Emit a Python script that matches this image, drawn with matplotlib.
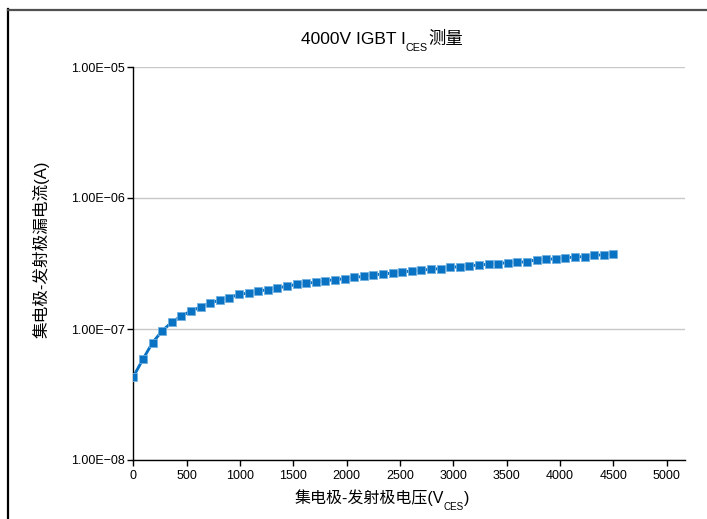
import numpy as np
import matplotlib
matplotlib.use("Agg")
import matplotlib.pyplot as plt
from matplotlib.lines import Line2D
from matplotlib.ticker import FixedLocator, FuncFormatter, NullLocator

plt.rcParams['font.family'] = ['Liberation Sans', 'Noto Sans CJK SC', 'DejaVu Sans']

# collector-emitter voltage (V), 90 V steps
vces = np.arange(0, 4501, 90)
# collector-emitter leakage current (A)
ices = [4.32e-8, 5.87e-8, 7.86e-8, 9.66e-8, 1.125e-7, 1.256e-7, 1.37e-7, 1.47e-7,
        1.58e-7, 1.66e-7, 1.73e-7, 1.84e-7, 1.88e-7, 1.94e-7, 2.00e-7, 2.06e-7,
        2.12e-7, 2.19e-7, 2.24e-7, 2.27e-7, 2.34e-7, 2.38e-7, 2.42e-7, 2.48e-7,
        2.52e-7, 2.60e-7, 2.62e-7, 2.68e-7, 2.73e-7, 2.77e-7, 2.81e-7, 2.86e-7,
        2.89e-7, 2.96e-7, 2.99e-7, 3.04e-7, 3.08e-7, 3.12e-7, 3.16e-7, 3.21e-7,
        3.23e-7, 3.26e-7, 3.38e-7, 3.40e-7, 3.44e-7, 3.48e-7, 3.56e-7, 3.56e-7,
        3.65e-7, 3.69e-7, 3.76e-7]

x_ticks = [0, 500, 1000, 1500, 2000, 2500, 3000, 3500, 4000, 4500, 5000]
y_ticks = [1e-8, 1e-7, 1e-6, 1e-5]

W, H = 707, 519
fig = plt.figure(figsize=(W / 100, H / 100), dpi=100)
ax = fig.add_axes([133.3 / W, 1 - 460 / H, (685 - 133.3) / W, (460 - 67) / H])

blue = '#0a72c2'
ax.plot(vces, ices, color=blue, lw=2.1, marker='s', ms=6.2,
        mfc=blue, mec='#6fb0e0', mew=0.6, zorder=3)

ax.set_yscale('log')
ax.set_ylim(1e-8, 1e-5)
ax.set_xlim(0, 5172)
ax.yaxis.set_major_locator(FixedLocator(y_ticks))
ax.yaxis.set_minor_locator(NullLocator())
ax.yaxis.set_major_formatter(FuncFormatter(
    lambda v, p: ("%.2E" % v).replace('-', '\u2212')))
ax.set_xticks(x_ticks)
ax.set_xticklabels([str(t) for t in x_ticks])

ax.grid(axis='y', color='#c8c8c8', lw=1.0)
ax.set_axisbelow(True)
for s in ['top', 'right']:
    ax.spines[s].set_visible(False)
for s in ['left', 'bottom']:
    ax.spines[s].set_color('black')
    ax.spines[s].set_linewidth(1.0)
ax.tick_params(axis='both', direction='out', length=4, width=1.0,
               colors='black', labelsize=9, pad=2)
ax.tick_params(axis='x', pad=3)

renderer = fig.canvas.get_renderer()


def sub_text(x, y, parts, size):
    # parts: list of (text, is_sub); laid out left to right, centered on x
    objs = []
    cx = 0
    for txt, is_sub in parts:
        fs = size * 0.62 if is_sub else size
        dy = -size * 0.42 if is_sub else 0
        t = fig.text(0, 0, txt, fontsize=fs, ha='left', va='baseline')
        w = t.get_window_extent(renderer).width
        objs.append((t, cx, dy))
        cx += w
    x0 = x - cx / 2
    for t, off, dy in objs:
        t.set_position(((x0 + off) / W, (y + dy * 100 / 72) / H))


sub_text(382, H - 44, [('4000V IGBT I', False), ('CES', True), ('测量', False)], 12.5)
sub_text(382, H - 503, [('集电极-发射极电压(V', False), ('CES', True), (')', False)], 11.5)

fig.text(41 / W, 1 - 249 / H, '集电极-发射极漏电流(A)', rotation=90,
         ha='center', va='center', fontsize=12)

# outer chart frame
fig.add_artist(Line2D([7.5 / W, 7.5 / W], [0, 1 - 9 / H], transform=fig.transFigure,
                      color='black', lw=1.6))
fig.add_artist(Line2D([7.5 / W, 1], [1 - 9.5 / H, 1 - 9.5 / H], transform=fig.transFigure,
                      color='#505050', lw=1.6))

fig.savefig('out.png', dpi=100)
